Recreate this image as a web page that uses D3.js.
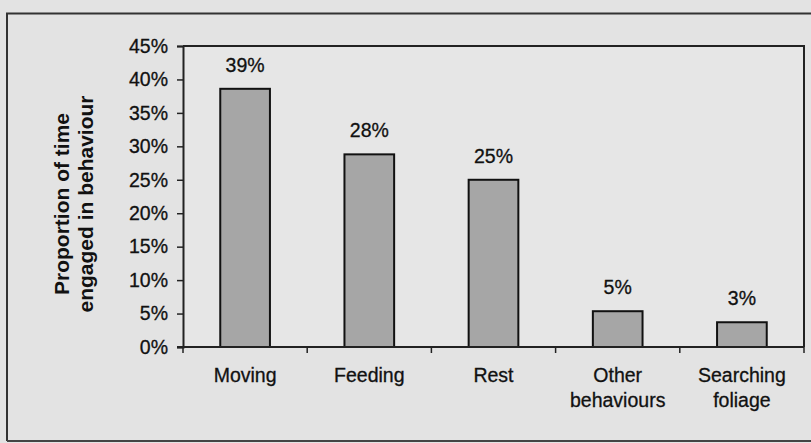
<!DOCTYPE html>
<html><head><meta charset="utf-8">
<script src="https://cdn.jsdelivr.net/npm/d3@7"></script>
<style>
html,body{margin:0;padding:0;background:#e3e3e3;}
svg{display:block;}
text{font-family:"Liberation Sans",Arial,sans-serif;fill:#111;}
</style></head>
<body>
<svg id="c" width="811" height="443"></svg>
<script>
const categories = ["Moving", "Feeding", "Rest", "Other behaviours", "Searching foliage"];
const categoryLines = [["Moving"], ["Feeding"], ["Rest"], ["Other", "behaviours"], ["Searching", "foliage"]];
const values = [38.6, 28.8, 25.0, 5.35, 3.7];
const valueLabels = ["39%", "28%", "25%", "5%", "3%"];
const yTicks = [0, 5, 10, 15, 20, 25, 30, 35, 40, 45];
const yTitle = ["Proportion of time", "engaged in behaviour"];

const svg = d3.select("#c");
const W = 811, H = 443;
const m = {left: 183, right: 804, top: 46, bottom: 347};
const FS = 19.5;

// outer frame
svg.append("rect").attr("x", 0).attr("y", 0).attr("width", W).attr("height", H).attr("fill", "#e3e3e3");
svg.append("path").attr("d", `M7,441 V13.5 H811`).attr("fill", "none").attr("stroke", "#333").attr("stroke-width", 2);
svg.append("line").attr("x1", 7).attr("x2", 811).attr("y1", 441).attr("y2", 441).attr("stroke", "#444").attr("stroke-width", 2);

// plot area
svg.append("rect").attr("x", m.left).attr("y", m.top).attr("width", m.right - m.left).attr("height", m.bottom - m.top)
  .attr("fill", "#e6e6e6");

const x = d3.scaleBand().domain(categories).range([m.left, m.right]).paddingInner(0.6).paddingOuter(0.3);
const y = d3.scaleLinear().domain([0, 45]).range([m.bottom, m.top]);

// plot border top/right
svg.append("path").attr("d", `M${m.left},${m.top} H${m.right} V${m.bottom}`).attr("fill", "none").attr("stroke", "#222").attr("stroke-width", 2);

// bars
svg.selectAll("rect.bar").data(categories).enter().append("rect").attr("class", "bar")
  .attr("x", d => x(d)).attr("width", x.bandwidth())
  .attr("y", (d, i) => y(values[i])).attr("height", (d, i) => y(0) - y(values[i]))
  .attr("fill", "#a6a6a6").attr("stroke", "#111").attr("stroke-width", 2);

// value labels
svg.selectAll("text.vl").data(categories).enter().append("text").attr("class", "vl")
  .attr("x", d => x(d) + x.bandwidth() / 2).attr("y", (d, i) => y(values[i]) - 17)
  .attr("text-anchor", "middle").attr("font-size", FS).attr("stroke", "#111").attr("stroke-width", 0.3).text((d, i) => valueLabels[i]);

// y axis
const yAxis = d3.axisLeft(y).tickValues(yTicks).tickFormat(d => d + "%").tickSize(6).tickPadding(9);
const gy = svg.append("g").attr("transform", `translate(${m.left},0)`).call(yAxis);
gy.select(".domain").attr("stroke", "#222").attr("stroke-width", 2);
gy.selectAll(".tick line").attr("stroke", "#222").attr("stroke-width", 1.5);
gy.selectAll(".tick text").attr("font-size", FS).attr("fill", "#111").attr("stroke", "#111").attr("stroke-width", 0.3)
  .attr("font-family", "Liberation Sans, Arial, sans-serif");

// x axis line and boundary ticks
svg.append("line").attr("x1", m.left - 6).attr("x2", m.right).attr("y1", y(0)).attr("y2", y(0)).attr("stroke", "#222").attr("stroke-width", 2);
const bounds = [m.left].concat(categories.map(c => x(c) + x.bandwidth() + (x.step() - x.bandwidth()) / 2));
svg.selectAll("line.xt").data(bounds).enter().append("line").attr("class", "xt")
  .attr("x1", d => d).attr("x2", d => d).attr("y1", y(0)).attr("y2", y(0) + 6)
  .attr("stroke", "#222").attr("stroke-width", 1.5);

// category labels
categories.forEach((c, i) => {
  const t = svg.append("text").attr("x", x(c) + x.bandwidth() / 2).attr("y", 382)
    .attr("text-anchor", "middle").attr("font-size", FS).attr("stroke", "#111").attr("stroke-width", 0.3);
  categoryLines[i].forEach((ln, j) => {
    t.append("tspan").attr("x", x(c) + x.bandwidth() / 2).attr("dy", j === 0 ? 0 : 25).text(ln);
  });
});

// y title
const yt = svg.append("text").attr("transform", `translate(69,204) rotate(-90)`)
  .attr("text-anchor", "middle").attr("font-size", 21).attr("font-weight", "bold");
yTitle.forEach((ln, j) => yt.append("tspan").attr("x", 0).attr("dy", j === 0 ? 0 : 24).text(ln));
</script>
</body></html>
